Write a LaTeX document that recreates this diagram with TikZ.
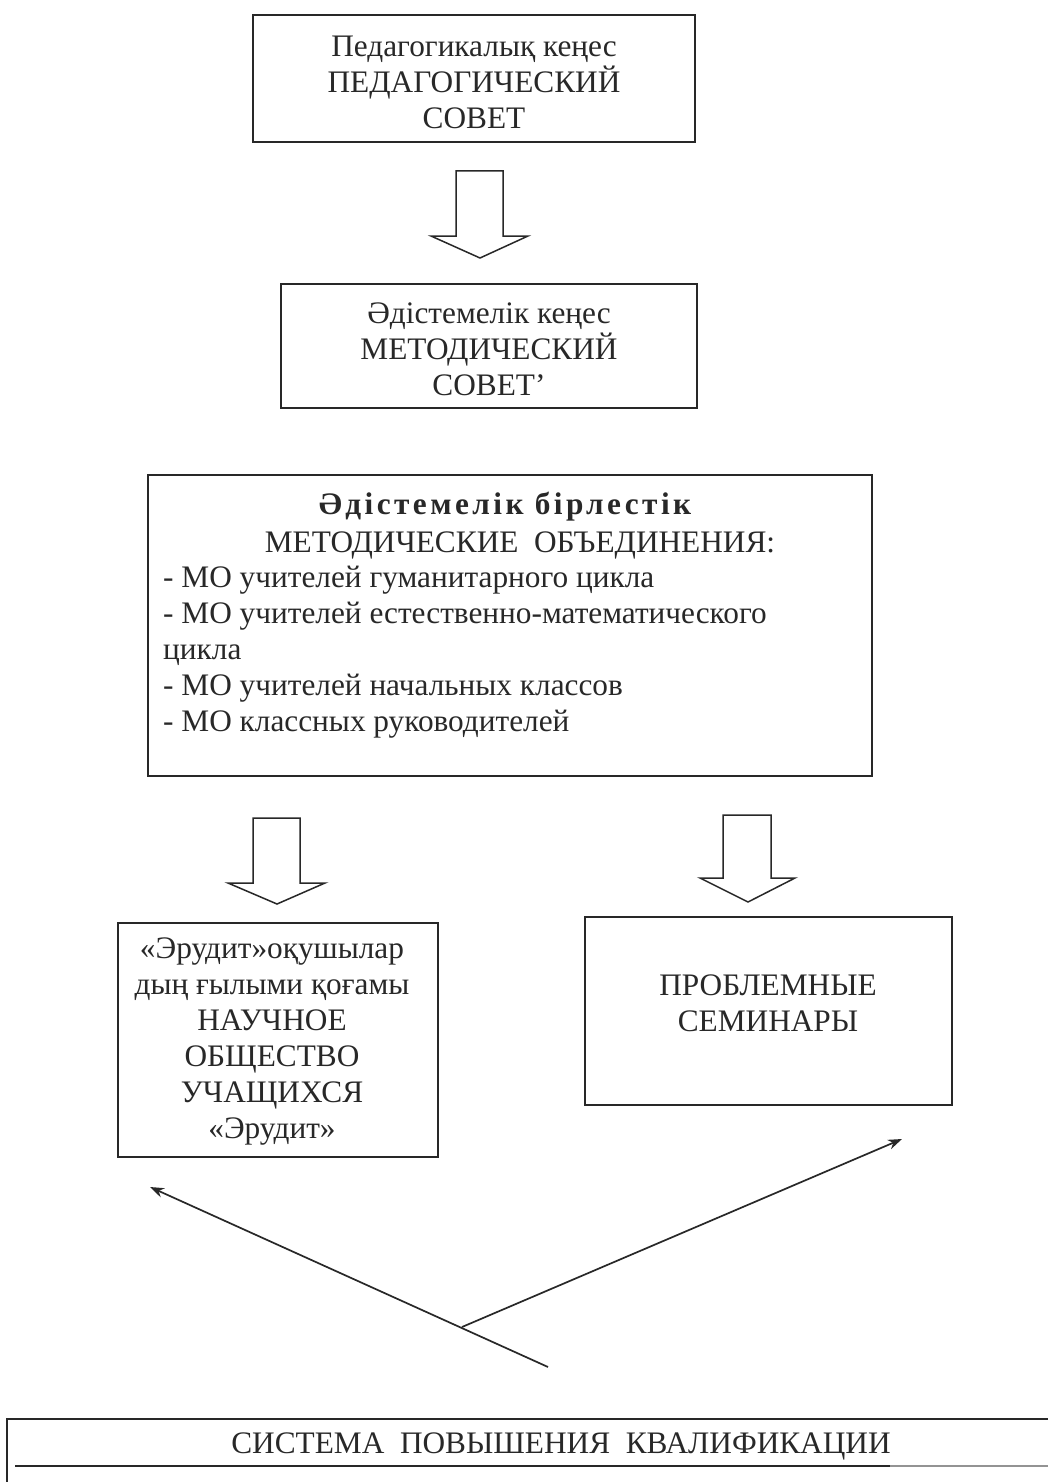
\documentclass[tikz,border=0pt]{standalone}
\usepackage{fontspec}
\setmainfont{Liberation Serif}
\usetikzlibrary{arrows.meta}
\definecolor{ink}{RGB}{40,40,40}
\begin{document}
\begin{tikzpicture}[x=1pt,y=-1pt,
  frame/.style={draw=ink,line width=1.8pt,inner sep=0pt},
  txt/.style={text=ink,font=\fontsize{31.3}{36}\selectfont,align=center,inner sep=0pt},
  blockarrow/.style={draw=ink,line width=1.5pt,fill=white,line join=miter},
  link/.style={draw=ink,line width=1.7pt,-{Stealth[length=14pt,width=10pt]}}]
\useasboundingbox[fill=white] (0,0) rectangle (1048,1482);

% Box 1
\node[frame,minimum width=442pt,minimum height=127pt] (b1) at (474,78.5) {};
\node[txt] (t1) at (474,82) {Педагогикалық кеңес\\ПЕДАГОГИЧЕСКИЙ\\СОВЕТ};

% arrow 1
\draw[blockarrow] (456,171) -- (503,171) -- (503,236) -- (528,236) -- (480,258) -- (431,236) -- (456,236) -- cycle;

% Box 2
\node[frame,minimum width=416pt,minimum height=124pt] (b2) at (489,346) {};
\node[txt] (t2) at (489,349) {Әдістемелік кеңес\\МЕТОДИЧЕСКИЙ\\СОВЕТ’};

% Box 3
\node[frame,minimum width=724pt,minimum height=301pt] (b3) at (510,625.5) {};
\node[txt,font=\fontsize{31.3}{36}\selectfont\bfseries\addfontfeatures{LetterSpace=11}] (t3a) at (505,507) {Әдістемелік бірлестік};
\node[txt] (t3b) at (520,545) {МЕТОДИЧЕСКИЕ\ \ ОБЪЕДИНЕНИЯ:};
\node[txt,align=left,anchor=west] (t3c) at (163,652.5) {- МО учителей гуманитарного цикла\\- МО учителей естественно-математического\\цикла\\- МО учителей начальных классов\\- МО классных руководителей};

% arrows 2,3
\draw[blockarrow] (253,818) -- (300,818) -- (300,883) -- (325,883) -- (277,904) -- (228,883) -- (253,883) -- cycle;
\draw[blockarrow] (723,815) -- (771,815) -- (771,878) -- (795,878) -- (748,902) -- (700,878) -- (723,878) -- cycle;

% Box 4
\node[frame,minimum width=320pt,minimum height=234pt] (b4) at (278,1040) {};
\node[txt] (t4) at (272,1042) {«Эрудит»оқушылар\\дың ғылыми қоғамы\\НАУЧНОЕ\\ОБЩЕСТВО\\УЧАЩИХСЯ\\«Эрудит»};

% Box 5
\node[frame,minimum width=367pt,minimum height=188pt] (b5) at (768.5,1011) {};
\node[txt] (t5) at (768,1003) {ПРОБЛЕМНЫЕ\\СЕМИНАРЫ};

% lines
\coordinate (base) at (548,1367);
\coordinate (mid) at (462,1327);
\coordinate (lt) at (150,1187);
\coordinate (rt) at (902,1139);
\draw[link] (base) -- (lt);
\draw[link] (mid) -- (rt);

% bottom frame
\coordinate (bl) at (7,1482);
\coordinate (tl) at (7,1419);
\coordinate (tr) at (1048,1419);
\draw[ink,line width=1.8pt] (bl) -- (tl) -- (tr);
\node[txt] (t6) at (561,1446) {СИСТЕМА\ \ ПОВЫШЕНИЯ\ \ КВАЛИФИКАЦИИ};
\coordinate (ul) at (15,1466);
\coordinate (um) at (890,1466);
\coordinate (ur) at (1048,1466);
\draw[ink,line width=1.5pt] (ul) -- (um);
\draw[ink!50,line width=1.2pt] (um) -- (ur);
\end{tikzpicture}
\end{document}
